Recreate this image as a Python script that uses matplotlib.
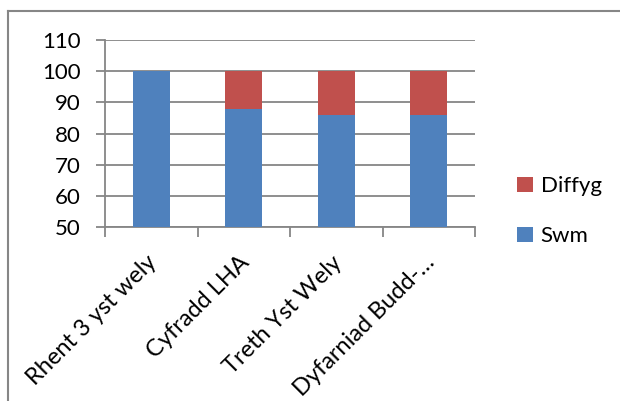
import matplotlib
matplotlib.use("Agg")
import matplotlib.pyplot as plt
from matplotlib.lines import Line2D
import matplotlib.transforms as mtransforms
import numpy as np

categories = ["Rhent 3 yst wely", "Cyfradd LHA", "Treth Yst Wely", "Dyfarniad Budd-\u2026"]
swm = [100, 88, 86, 86]
diffyg = [0, 12, 14, 14]
yticks = [50, 60, 70, 80, 90, 100, 110]

plt.rcParams['font.family'] = ['Lato', 'DejaVu Sans']
FS = 16
GRAY = '#868686'
BLUE = '#4F81BD'
RED = '#C0504D'

fig = plt.figure(figsize=(6.2, 4.01), dpi=100)
ax = fig.add_axes([105/620, 1-227/401, 370/620, 187/401])

x = np.arange(len(categories))
ax.bar(x, swm, width=0.4, color=BLUE, label='Swm', zorder=3)
ax.bar(x, diffyg, width=0.4, bottom=swm, color=RED, label='Diffyg', zorder=3)

ax.set_xlim(-0.5, len(categories) - 0.5)
ax.set_ylim(50, 110)
ax.set_yticks(yticks)
ax.set_yticklabels([str(v) for v in yticks], fontsize=FS)
ax.yaxis.grid(True, color=GRAY, linewidth=1.3, zorder=0)
ax.tick_params(axis='y', length=6.5, width=1.3, color=GRAY, pad=11)

ax.set_xticks(x)
ax.set_xticklabels(categories, fontsize=17, rotation=45, ha='right', va='top', rotation_mode='anchor')
ax.set_xticks(np.arange(len(categories) + 1) - 0.5, minor=True)
ax.tick_params(axis='x', which='major', length=0, pad=12)
ax.tick_params(axis='x', which='minor', length=7, width=1.3, color=GRAY)
offset = mtransforms.ScaledTranslation(-5/100, -8/100, fig.dpi_scale_trans)
for lbl in ax.get_xticklabels():
    lbl.set_transform(lbl.get_transform() + offset)

for s in ['top', 'right']:
    ax.spines[s].set_visible(False)
for s in ['left', 'bottom']:
    ax.spines[s].set_color(GRAY)
    ax.spines[s].set_linewidth(1.3)

handles, labels = ax.get_legend_handles_labels()
fig.legend(handles[::-1], labels[::-1], loc='center left',
           bbox_to_anchor=(517/620, 1-211/401), frameon=False,
           fontsize=FS, handlelength=0.72, handleheight=0.68,
           handletextpad=0.35, labelspacing=1.35, borderpad=0, borderaxespad=0)

# chart-area frame (left and top edges visible)
fig.add_artist(Line2D([8/620, 8/620], [0, 1-11/401], transform=fig.transFigure, color=GRAY, linewidth=1.5))
fig.add_artist(Line2D([8/620, 1], [1-11/401, 1-11/401], transform=fig.transFigure, color=GRAY, linewidth=1.5))

fig.savefig('out.png', dpi=100)
